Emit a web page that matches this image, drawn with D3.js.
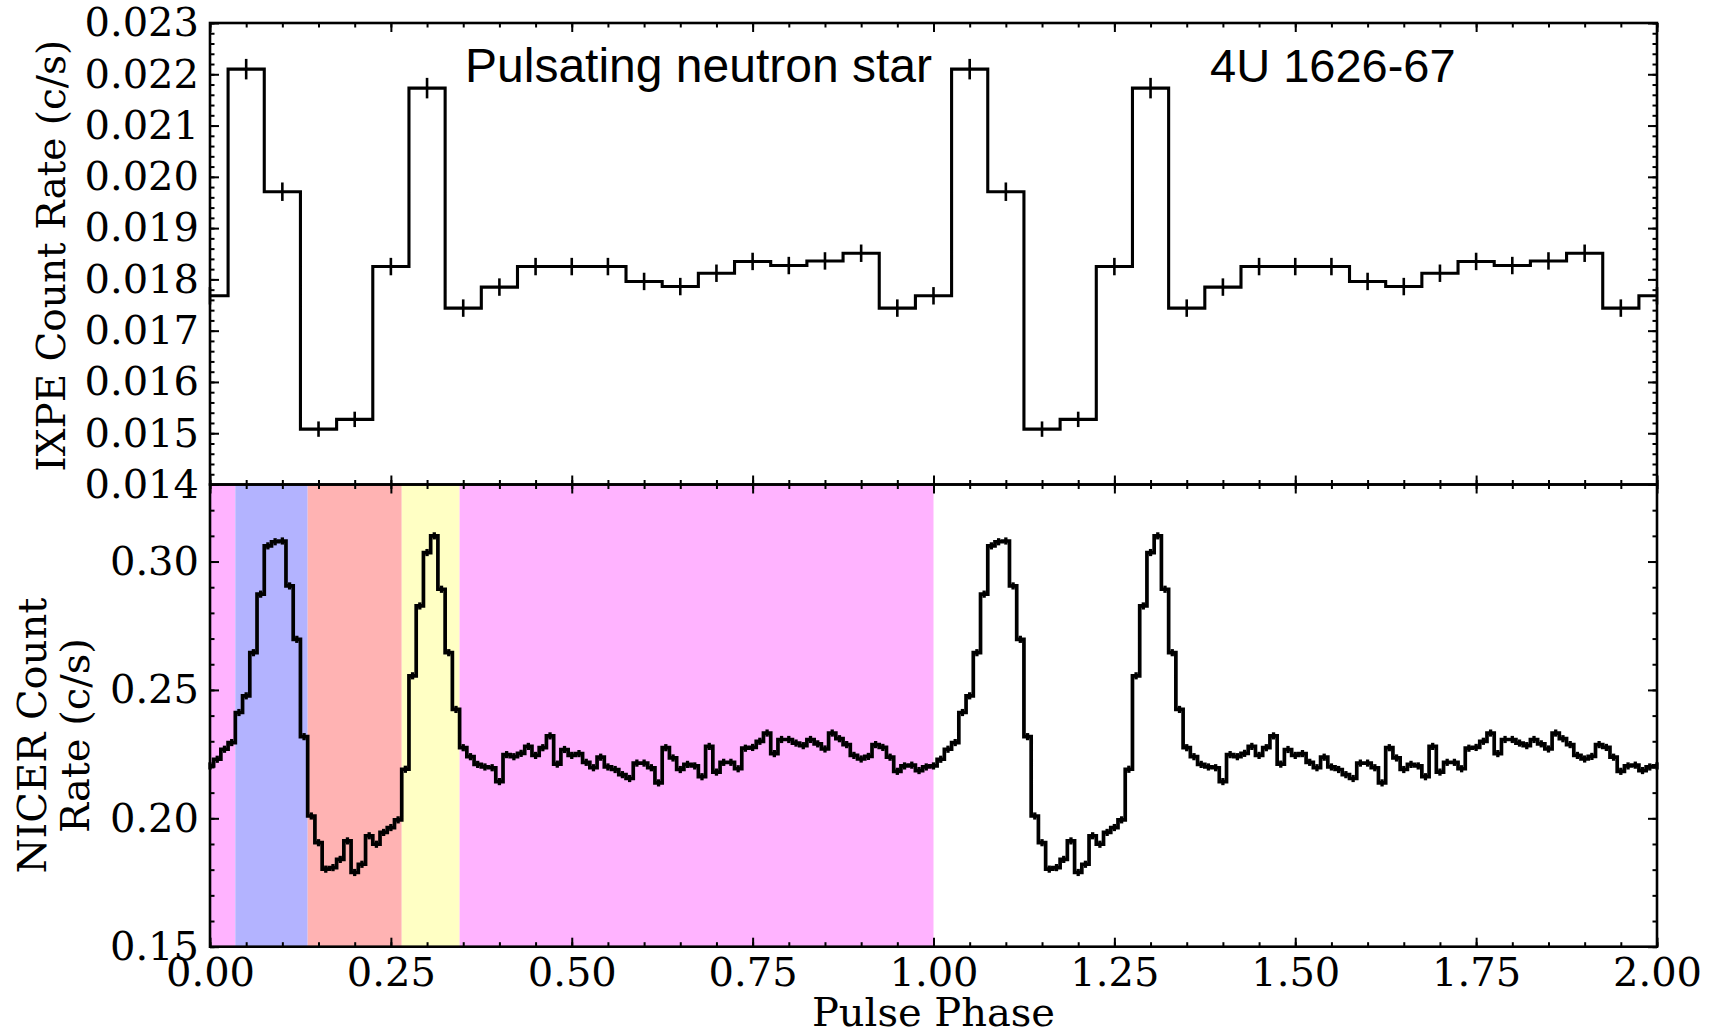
<!DOCTYPE html>
<html>
<head>
<meta charset="utf-8">
<script src="https://cdn.jsdelivr.net/npm/d3@7"></script>
<style>
  html, body { margin: 0; padding: 0; background: #ffffff; }
  svg { display: block; }
</style>
</head>
<body>
<svg id="chart" width="1712" height="1034"></svg>
<script>
// ---------------------------------------------------------------
// Folded pulse profiles of 4U 1626-67 (one cycle each, shown twice)
// ---------------------------------------------------------------

// IXPE: 20 phase bins, centres at 0.00, 0.05, ... 0.95 (counts/s)
const ixpeRate = [
  0.01768, 0.02210, 0.01971, 0.01508, 0.01527,
  0.01825, 0.02173, 0.01744, 0.01785, 0.01825,
  0.01825, 0.01825, 0.01796, 0.01786, 0.01812,
  0.01835, 0.01827, 0.01836, 0.01851, 0.01744
];
const ixpeErr = [
  0.00017, 0.00020, 0.00018, 0.00015, 0.00015,
  0.00017, 0.00020, 0.00017, 0.00017, 0.00017,
  0.00017, 0.00017, 0.00017, 0.00017, 0.00017,
  0.00017, 0.00017, 0.00017, 0.00017, 0.00017
];

// NICER: 100 phase bins, centres at 0.00, 0.01, ... 0.99 (counts/s)
const nicerRate = [
  0.2204, 0.2230, 0.2269, 0.2295, 0.2412, 0.2477, 0.2645, 0.2873, 0.3061, 0.3077,
  0.3080, 0.2905, 0.2697, 0.2318, 0.2009, 0.1905, 0.1802, 0.1808, 0.1840, 0.1912,
  0.1789, 0.1821, 0.1932, 0.1899, 0.1945, 0.1964, 0.1994, 0.2191, 0.2555, 0.2827,
  0.3035, 0.3100, 0.2892, 0.2645, 0.2424, 0.2275, 0.2240, 0.2210, 0.2200, 0.2197,
  0.2143, 0.2248, 0.2240, 0.2253, 0.2280, 0.2245, 0.2275, 0.2321, 0.2211, 0.2268,
  0.2245, 0.2252, 0.2218, 0.2197, 0.2238, 0.2200, 0.2190, 0.2170, 0.2155, 0.2215,
  0.2215, 0.2197, 0.2138, 0.2275, 0.2235, 0.2190, 0.2210, 0.2204, 0.2162, 0.2280,
  0.2180, 0.2218, 0.2218, 0.2193, 0.2273, 0.2276, 0.2300, 0.2332, 0.2252, 0.2307,
  0.2307, 0.2293, 0.2283, 0.2307, 0.2290, 0.2270, 0.2332, 0.2310, 0.2287, 0.2245,
  0.2231, 0.2241, 0.2287, 0.2276, 0.2238, 0.2183, 0.2204, 0.2207, 0.2186, 0.2200
];
const nicerErr = 0.0014;

// Phase intervals highlighted in the NICER panel (first cycle)
const bandEdges = [0.000, 0.035, 0.135, 0.265, 0.345, 1.000];
const bandFill  = ["#ffb3ff", "#b3b3ff", "#ffb3b3", "#ffffc4", "#ffb3ff"];

// Tick values
const phaseTicks  = [0.00, 0.25, 0.50, 0.75, 1.00, 1.25, 1.50, 1.75, 2.00];
const ixpeTicks   = [0.014, 0.015, 0.016, 0.017, 0.018, 0.019, 0.020, 0.021, 0.022, 0.023];
const nicerTicks  = [0.15, 0.20, 0.25, 0.30];

const cycles = 2;

// ---------------------------------------------------------------
// Layout
// ---------------------------------------------------------------
const plotLeft = 210, plotRight = 1657;
const topY0 = 23, midY = 484.5, botY1 = 946.7;

const svg = d3.select("#chart");

const x  = d3.scaleLinear().domain([0, 2]).range([plotLeft, plotRight]);
const yI = d3.scaleLinear().domain([0.014, 0.023]).range([midY, topY0]);
const yN = d3.scaleLinear().domain([0.15, 0.33]).range([botY1, midY]);

// repeat a one-cycle profile over the shown phase range
function unfold(rates, errs) {
  const n = rates.length, pts = [];
  for (let c = 0; c < cycles; c++) {
    rates.forEach((r, k) => pts.push({ phase: c + k / n, rate: r,
      err: Array.isArray(errs) ? errs[k] : errs }));
  }
  pts.push({ phase: cycles, rate: rates[0], err: Array.isArray(errs) ? errs[0] : errs });
  return pts;
}
const ixpe  = unfold(ixpeRate, ixpeErr);
const nicer = unfold(nicerRate, nicerErr);

// ---------------------------------------------------------------
// Shaded phase intervals
// ---------------------------------------------------------------
const bands = bandEdges.slice(0, -1).map((s, i) => ({ start: s, end: bandEdges[i + 1], fill: bandFill[i] }));
svg.append("g").selectAll("rect")
  .data(bands).join("rect")
  .attr("x", d => x(d.start))
  .attr("width", d => x(d.end) - x(d.start))
  .attr("y", midY)
  .attr("height", botY1 - midY)
  .attr("fill", d => d.fill);

// ---------------------------------------------------------------
// Profiles
// ---------------------------------------------------------------
function drawProfile(data, yScale, lineW, errW) {
  const g = svg.append("g");
  g.append("path")
    .datum(data)
    .attr("fill", "none")
    .attr("stroke", "#000")
    .attr("stroke-width", lineW)
    .attr("stroke-linejoin", "miter")
    .attr("d", d3.line().x(d => x(d.phase)).y(d => yScale(d.rate)).curve(d3.curveStep));
  g.selectAll("line.err")
    .data(data).join("line")
    .attr("class", "err")
    .attr("x1", d => x(d.phase)).attr("x2", d => x(d.phase))
    .attr("y1", d => yScale(d.rate - d.err))
    .attr("y2", d => yScale(d.rate + d.err))
    .attr("stroke", "#000")
    .attr("stroke-width", errW);
}
drawProfile(ixpe, yI, 3.1, 2.6);
drawProfile(nicer, yN, 3.7, 3.3);

// ---------------------------------------------------------------
// Axes (ticks point inward on every side)
// ---------------------------------------------------------------
const MAJ = 9, MIN = 4.5;
const phaseMinor = d3.range(0, 41).map(i => +(i * 0.05).toFixed(2));
const ixpeMinor  = d3.range(0, 46).map(i => +(0.014 + i * 0.0002).toFixed(4));
const nicerMinor = d3.range(0, 19).map(i => +(0.15 + i * 0.01).toFixed(2));

function place(axis, tx, ty, labelled) {
  const g = svg.append("g")
    .attr("transform", `translate(${tx},${ty})`)
    .call(axis);
  g.select(".domain").remove();
  g.selectAll(".tick line").attr("stroke", "#000").attr("stroke-width", 2);
  if (labelled) {
    g.selectAll(".tick text")
      .attr("font-family", "'DejaVu Serif', serif")
      .attr("font-size", 40)
      .attr("fill", "#000");
  }
  return g;
}

// IXPE panel
place(d3.axisLeft(yI).tickValues(ixpeMinor).tickSize(-MIN).tickFormat(""), plotLeft, 0);
place(d3.axisLeft(yI).tickValues(ixpeTicks).tickSize(-MAJ).tickPadding(11).tickFormat(d3.format(".3f")), plotLeft, 0, true);
place(d3.axisRight(yI).tickValues(ixpeMinor).tickSize(-MIN).tickFormat(""), plotRight, 0);
place(d3.axisRight(yI).tickValues(ixpeTicks).tickSize(-MAJ).tickFormat(""), plotRight, 0);
place(d3.axisTop(x).tickValues(phaseMinor).tickSize(-MIN).tickFormat(""), 0, topY0);
place(d3.axisTop(x).tickValues(phaseTicks).tickSize(-MAJ).tickFormat(""), 0, topY0);
place(d3.axisBottom(x).tickValues(phaseMinor).tickSize(-MIN).tickFormat(""), 0, midY);
place(d3.axisBottom(x).tickValues(phaseTicks).tickSize(-MAJ).tickFormat(""), 0, midY);

// NICER panel
place(d3.axisLeft(yN).tickValues(nicerMinor).tickSize(-MIN).tickFormat(""), plotLeft, 0);
place(d3.axisLeft(yN).tickValues(nicerTicks).tickSize(-MAJ).tickPadding(11).tickFormat(d3.format(".2f")), plotLeft, 0, true);
place(d3.axisRight(yN).tickValues(nicerMinor).tickSize(-MIN).tickFormat(""), plotRight, 0);
place(d3.axisRight(yN).tickValues(nicerTicks).tickSize(-MAJ).tickFormat(""), plotRight, 0);
place(d3.axisTop(x).tickValues(phaseMinor).tickSize(-MIN).tickFormat(""), 0, midY);
place(d3.axisTop(x).tickValues(phaseTicks).tickSize(-MAJ).tickFormat(""), 0, midY);
place(d3.axisBottom(x).tickValues(phaseMinor).tickSize(-MIN).tickFormat(""), 0, botY1);
place(d3.axisBottom(x).tickValues(phaseTicks).tickSize(-MAJ).tickPadding(11).tickFormat(d3.format(".2f")), 0, botY1, true);

// panel frames
[[topY0, midY], [midY, botY1]].forEach(([a, b]) => {
  svg.append("rect")
    .attr("x", plotLeft).attr("y", a)
    .attr("width", plotRight - plotLeft).attr("height", b - a)
    .attr("fill", "none").attr("stroke", "#000").attr("stroke-width", 2.6);
});

// ---------------------------------------------------------------
// Labels
// ---------------------------------------------------------------
const serif = "'DejaVu Serif', serif";
const sans = "'Liberation Sans', Arial, sans-serif";

svg.append("text")
  .attr("transform", `translate(65,${(topY0 + midY) / 2 + 2}) rotate(-90)`)
  .attr("text-anchor", "middle")
  .attr("font-family", serif).attr("font-size", 39)
  .text("IXPE Count Rate (c/s)");

const nicerLabel = svg.append("text")
  .attr("transform", `translate(0,${(midY + botY1) / 2 + 20}) rotate(-90)`)
  .attr("text-anchor", "middle")
  .attr("font-family", serif).attr("font-size", 40);
nicerLabel.append("tspan").attr("x", 0).attr("y", 46).text("NICER Count");
nicerLabel.append("tspan").attr("x", 0).attr("y", 89).text("Rate (c/s)");

svg.append("text")
  .attr("x", (plotLeft + plotRight) / 2).attr("y", 1026)
  .attr("text-anchor", "middle")
  .attr("font-family", serif).attr("font-size", 40)
  .text("Pulse Phase");

svg.append("text")
  .attr("x", 465).attr("y", 82)
  .attr("font-family", sans).attr("font-size", 48)
  .text("Pulsating neutron star");

svg.append("text")
  .attr("x", 1210).attr("y", 82)
  .attr("font-family", sans).attr("font-size", 47)
  .text("4U 1626-67");
</script>
</body>
</html>
